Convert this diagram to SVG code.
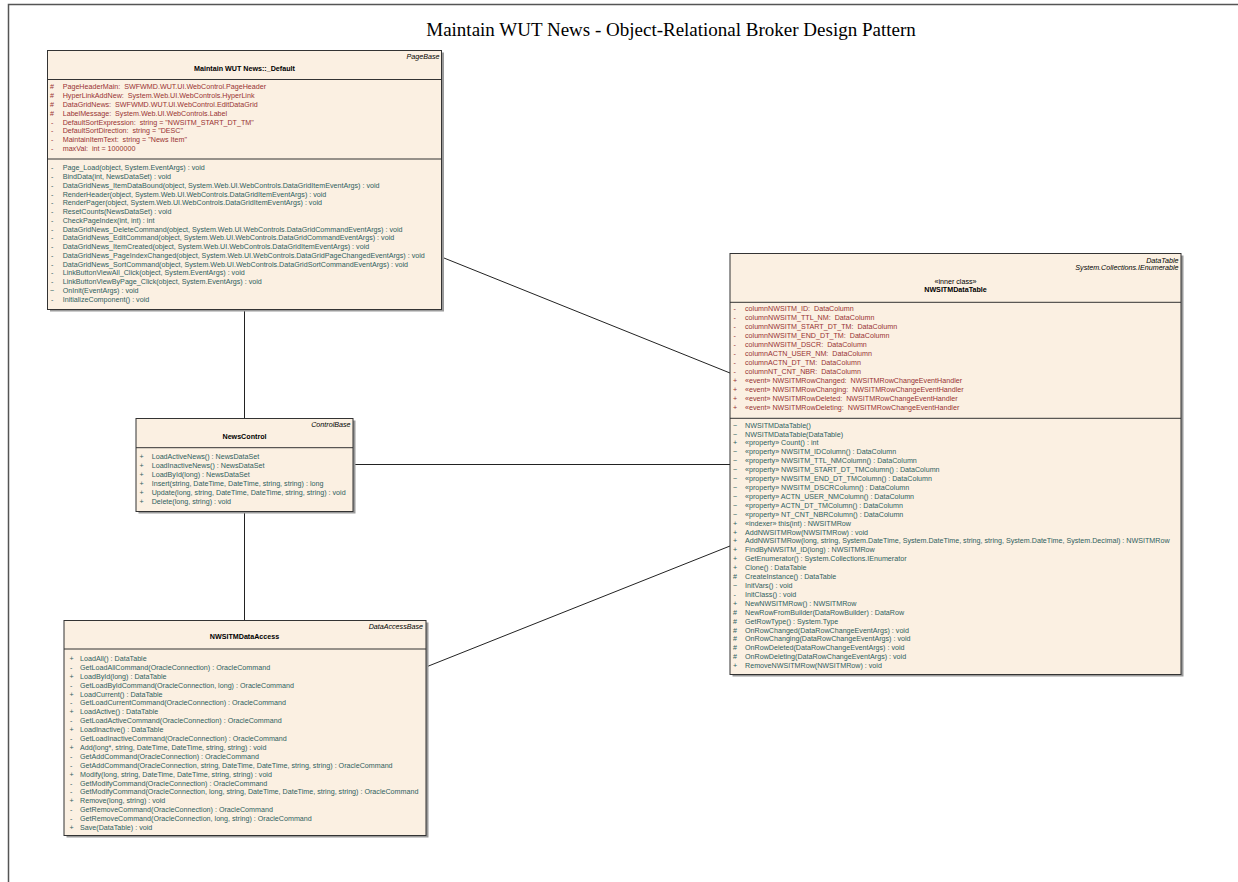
<svg xmlns="http://www.w3.org/2000/svg" width="1238" height="882" viewBox="0 0 1238 882">
<style>
.bg{fill:#ffffff}
.frame{stroke:#555;stroke-width:1.5;fill:none}
.box{fill:#FBF0E2;stroke:#333;stroke-width:1}
.sh{fill:#9a9a9a}
.sep{stroke:#333;stroke-width:1}
.t{font-family:"Liberation Sans",Arial,sans-serif;font-size:7.15px;white-space:pre}
.a{fill:#993333}
.m{fill:#2F6060}
.n{font-weight:bold;fill:#000;text-anchor:middle}
.c{fill:#000;text-anchor:middle}
.st{font-style:italic;fill:#000;text-anchor:end}
.conn{stroke:#222;stroke-width:1;fill:none}
.title{font-family:"Liberation Serif","Times New Roman",serif;font-size:19px;fill:#000;text-anchor:middle}
</style>
<rect class="bg" x="0" y="0" width="1238" height="882"/>
<path class="frame" d="M8.5,882 V4.5 H1238"/>
<text class="title" x="671" y="35.5">Maintain WUT News - Object-Relational Broker Design Pattern</text>

<g id="connectors">
<line class="conn" x1="244.5" y1="309" x2="244.5" y2="418"/>
<line class="conn" x1="353" y1="464.5" x2="730" y2="464.5"/>
<line class="conn" x1="244.5" y1="511" x2="244.5" y2="620"/>
<line class="conn" x1="441.5" y1="257" x2="730" y2="373"/>
<line class="conn" x1="426" y1="667" x2="730" y2="546"/>
</g>

<g id="default">
<rect class="sh" x="50" y="52.5" width="394" height="259"/>
<rect class="box" x="47.5" y="50.5" width="394" height="259"/>
<line class="sep" x1="47.5" y1="79.5" x2="441.5" y2="79.5"/>
<line class="sep" x1="47.5" y1="159" x2="441.5" y2="159"/>
<text class="t st" x="439.5" y="59.3">PageBase</text>
<text class="t n" x="244.5" y="71">Maintain WUT News::_Default</text>
<g class="t a">
<text y="89.3" xml:space="preserve"><tspan x="50">#</tspan><tspan x="62.7">PageHeaderMain:  SWFWMD.WUT.UI.WebControl.PageHeader</tspan></text>
<text y="98.1" xml:space="preserve"><tspan x="50">#</tspan><tspan x="62.7">HyperLinkAddNew:  System.Web.UI.WebControls.HyperLink</tspan></text>
<text y="106.9" xml:space="preserve"><tspan x="50">#</tspan><tspan x="62.7">DataGridNews:  SWFWMD.WUT.UI.WebControl.EditDataGrid</tspan></text>
<text y="115.7" xml:space="preserve"><tspan x="50">#</tspan><tspan x="62.7">LabelMessage:  System.Web.UI.WebControls.Label</tspan></text>
<text y="124.5" xml:space="preserve"><tspan x="51">-</tspan><tspan x="62.7">DefaultSortExpression:  string = "NWSITM_START_DT_TM"</tspan></text>
<text y="133.3" xml:space="preserve"><tspan x="51">-</tspan><tspan x="62.7">DefaultSortDirection:  string = "DESC"</tspan></text>
<text y="142.1" xml:space="preserve"><tspan x="51">-</tspan><tspan x="62.7">MaintainItemText:  string = "News Item"</tspan></text>
<text y="150.9" xml:space="preserve"><tspan x="51">-</tspan><tspan x="62.7">maxVal:  int = 1000000</tspan></text>
</g>
<g class="t m">
<text y="170.3"><tspan x="51">-</tspan><tspan x="62.7">Page_Load(object, System.EventArgs) : void</tspan></text>
<text y="179.1"><tspan x="51">-</tspan><tspan x="62.7">BindData(int, NewsDataSet) : void</tspan></text>
<text y="187.8"><tspan x="51">-</tspan><tspan x="62.7">DataGridNews_ItemDataBound(object, System.Web.UI.WebControls.DataGridItemEventArgs) : void</tspan></text>
<text y="196.6"><tspan x="51">-</tspan><tspan x="62.7">RenderHeader(object, System.Web.UI.WebControls.DataGridItemEventArgs) : void</tspan></text>
<text y="205.3"><tspan x="51">-</tspan><tspan x="62.7">RenderPager(object, System.Web.UI.WebControls.DataGridItemEventArgs) : void</tspan></text>
<text y="214.1"><tspan x="51">-</tspan><tspan x="62.7">ResetCounts(NewsDataSet) : void</tspan></text>
<text y="222.8"><tspan x="51">-</tspan><tspan x="62.7">CheckPageIndex(int, int) : int</tspan></text>
<text y="231.6"><tspan x="51">-</tspan><tspan x="62.7">DataGridNews_DeleteCommand(object, System.Web.UI.WebControls.DataGridCommandEventArgs) : void</tspan></text>
<text y="240.3"><tspan x="51">-</tspan><tspan x="62.7">DataGridNews_EditCommand(object, System.Web.UI.WebControls.DataGridCommandEventArgs) : void</tspan></text>
<text y="249.1"><tspan x="51">-</tspan><tspan x="62.7">DataGridNews_ItemCreated(object, System.Web.UI.WebControls.DataGridItemEventArgs) : void</tspan></text>
<text y="257.8"><tspan x="51">-</tspan><tspan x="62.7">DataGridNews_PageIndexChanged(object, System.Web.UI.WebControls.DataGridPageChangedEventArgs) : void</tspan></text>
<text y="266.6"><tspan x="51">-</tspan><tspan x="62.7">DataGridNews_SortCommand(object, System.Web.UI.WebControls.DataGridSortCommandEventArgs) : void</tspan></text>
<text y="275.3"><tspan x="51">-</tspan><tspan x="62.7">LinkButtonViewAll_Click(object, System.EventArgs) : void</tspan></text>
<text y="284.1"><tspan x="51">-</tspan><tspan x="62.7">LinkButtonViewByPage_Click(object, System.EventArgs) : void</tspan></text>
<text y="292.8"><tspan x="50">~</tspan><tspan x="62.7">OnInit(EventArgs) : void</tspan></text>
<text y="301.6"><tspan x="51">-</tspan><tspan x="62.7">InitializeComponent() : void</tspan></text>
</g>
</g>

<g id="newscontrol">
<rect class="sh" x="138.5" y="420.5" width="217" height="93"/>
<rect class="box" x="136" y="418.5" width="217" height="93"/>
<line class="sep" x1="136" y1="447.7" x2="353" y2="447.7"/>
<text class="t st" x="350.5" y="427">ControlBase</text>
<text class="t n" x="244.5" y="438.6">NewsControl</text>
<g class="t m">
<text y="459.3"><tspan x="139.5">+</tspan><tspan x="151.7">LoadActiveNews() : NewsDataSet</tspan></text>
<text y="468.2"><tspan x="139.5">+</tspan><tspan x="151.7">LoadInactiveNews() : NewsDataSet</tspan></text>
<text y="477.1"><tspan x="139.5">+</tspan><tspan x="151.7">LoadById(long) : NewsDataSet</tspan></text>
<text y="486"><tspan x="139.5">+</tspan><tspan x="151.7">Insert(string, DateTime, DateTime, string, string) : long</tspan></text>
<text y="494.9"><tspan x="139.5">+</tspan><tspan x="151.7">Update(long, string, DateTime, DateTime, string, string) : void</tspan></text>
<text y="503.8"><tspan x="139.5">+</tspan><tspan x="151.7">Delete(long, string) : void</tspan></text>
</g>
</g>

<g id="dataaccess">
<rect class="sh" x="66.5" y="622.5" width="362" height="215"/>
<rect class="box" x="64" y="620.5" width="362" height="215"/>
<line class="sep" x1="64" y1="649" x2="426" y2="649"/>
<text class="t st" x="423" y="628.6">DataAccessBase</text>
<text class="t n" x="244.5" y="639.3">NWSITMDataAccess</text>
<g class="t m">
<text y="660.9"><tspan x="69.5">+</tspan><tspan x="80">LoadAll() : DataTable</tspan></text>
<text y="669.8"><tspan x="70">-</tspan><tspan x="80">GetLoadAllCommand(OracleConnection) : OracleCommand</tspan></text>
<text y="678.7"><tspan x="69.5">+</tspan><tspan x="80">LoadById(long) : DataTable</tspan></text>
<text y="687.6"><tspan x="70">-</tspan><tspan x="80">GetLoadByIdCommand(OracleConnection, long) : OracleCommand</tspan></text>
<text y="696.5"><tspan x="69.5">+</tspan><tspan x="80">LoadCurrent() : DataTable</tspan></text>
<text y="705.4"><tspan x="70">-</tspan><tspan x="80">GetLoadCurrentCommand(OracleConnection) : OracleCommand</tspan></text>
<text y="714.3"><tspan x="69.5">+</tspan><tspan x="80">LoadActive() : DataTable</tspan></text>
<text y="723.2"><tspan x="70">-</tspan><tspan x="80">GetLoadActiveCommand(OracleConnection) : OracleCommand</tspan></text>
<text y="732.1"><tspan x="69.5">+</tspan><tspan x="80">LoadInactive() : DataTable</tspan></text>
<text y="741"><tspan x="70">-</tspan><tspan x="80">GetLoadInactiveCommand(OracleConnection) : OracleCommand</tspan></text>
<text y="749.9"><tspan x="69.5">+</tspan><tspan x="80">Add(long*, string, DateTime, DateTime, string, string) : void</tspan></text>
<text y="758.8"><tspan x="70">-</tspan><tspan x="80">GetAddCommand(OracleConnection) : OracleCommand</tspan></text>
<text y="767.7"><tspan x="70">-</tspan><tspan x="80">GetAddCommand(OracleConnection, string, DateTime, DateTime, string, string) : OracleCommand</tspan></text>
<text y="776.6"><tspan x="69.5">+</tspan><tspan x="80">Modify(long, string, DateTime, DateTime, string, string) : void</tspan></text>
<text y="785.5"><tspan x="70">-</tspan><tspan x="80">GetModifyCommand(OracleConnection) : OracleCommand</tspan></text>
<text y="794.4"><tspan x="70">-</tspan><tspan x="80">GetModifyCommand(OracleConnection, long, string, DateTime, DateTime, string, string) : OracleCommand</tspan></text>
<text y="803.3"><tspan x="69.5">+</tspan><tspan x="80">Remove(long, string) : void</tspan></text>
<text y="812.2"><tspan x="70">-</tspan><tspan x="80">GetRemoveCommand(OracleConnection) : OracleCommand</tspan></text>
<text y="821.1"><tspan x="70">-</tspan><tspan x="80">GetRemoveCommand(OracleConnection, long, string) : OracleCommand</tspan></text>
<text y="830"><tspan x="69.5">+</tspan><tspan x="80">Save(DataTable) : void</tspan></text>
</g>
</g>

<g id="datatable">
<rect class="sh" x="732.5" y="255.5" width="451" height="421"/>
<rect class="box" x="730" y="253.5" width="451" height="421"/>
<line class="sep" x1="730" y1="302.3" x2="1181" y2="302.3"/>
<line class="sep" x1="730" y1="418.3" x2="1181" y2="418.3"/>
<text class="t st" x="1178.5" y="262.6">DataTable</text>
<text class="t st" x="1178.5" y="270">System.Collections.IEnumerable</text>
<text class="t c" x="955.5" y="283.6">«inner class»</text>
<text class="t n" x="955.5" y="292">NWSITMDataTable</text>
<g class="t a">
<text y="311.3" xml:space="preserve"><tspan x="733.5">-</tspan><tspan x="745">columnNWSITM_ID:  DataColumn</tspan></text>
<text y="320.2" xml:space="preserve"><tspan x="733.5">-</tspan><tspan x="745">columnNWSITM_TTL_NM:  DataColumn</tspan></text>
<text y="329.2" xml:space="preserve"><tspan x="733.5">-</tspan><tspan x="745">columnNWSITM_START_DT_TM:  DataColumn</tspan></text>
<text y="338.1" xml:space="preserve"><tspan x="733.5">-</tspan><tspan x="745">columnNWSITM_END_DT_TM:  DataColumn</tspan></text>
<text y="347" xml:space="preserve"><tspan x="733.5">-</tspan><tspan x="745">columnNWSITM_DSCR:  DataColumn</tspan></text>
<text y="355.9" xml:space="preserve"><tspan x="733.5">-</tspan><tspan x="745">columnACTN_USER_NM:  DataColumn</tspan></text>
<text y="364.9" xml:space="preserve"><tspan x="733.5">-</tspan><tspan x="745">columnACTN_DT_TM:  DataColumn</tspan></text>
<text y="373.8" xml:space="preserve"><tspan x="733.5">-</tspan><tspan x="745">columnNT_CNT_NBR:  DataColumn</tspan></text>
<text y="382.7" xml:space="preserve"><tspan x="733">+</tspan><tspan x="745">«event» NWSITMRowChanged:  NWSITMRowChangeEventHandler</tspan></text>
<text y="391.7" xml:space="preserve"><tspan x="733">+</tspan><tspan x="745">«event» NWSITMRowChanging:  NWSITMRowChangeEventHandler</tspan></text>
<text y="400.6" xml:space="preserve"><tspan x="733">+</tspan><tspan x="745">«event» NWSITMRowDeleted:  NWSITMRowChangeEventHandler</tspan></text>
<text y="409.5" xml:space="preserve"><tspan x="733">+</tspan><tspan x="745">«event» NWSITMRowDeleting:  NWSITMRowChangeEventHandler</tspan></text>
</g>
<g class="t m">
<text y="427.6"><tspan x="733">~</tspan><tspan x="745">NWSITMDataTable()</tspan></text>
<text y="436.5"><tspan x="733">~</tspan><tspan x="745">NWSITMDataTable(DataTable)</tspan></text>
<text y="445.4"><tspan x="733">+</tspan><tspan x="745">«property» Count() : int</tspan></text>
<text y="454.3"><tspan x="733">~</tspan><tspan x="745">«property» NWSITM_IDColumn() : DataColumn</tspan></text>
<text y="463.2"><tspan x="733">~</tspan><tspan x="745">«property» NWSITM_TTL_NMColumn() : DataColumn</tspan></text>
<text y="472.2"><tspan x="733">~</tspan><tspan x="745">«property» NWSITM_START_DT_TMColumn() : DataColumn</tspan></text>
<text y="481.1"><tspan x="733">~</tspan><tspan x="745">«property» NWSITM_END_DT_TMColumn() : DataColumn</tspan></text>
<text y="490"><tspan x="733">~</tspan><tspan x="745">«property» NWSITM_DSCRColumn() : DataColumn</tspan></text>
<text y="498.9"><tspan x="733">~</tspan><tspan x="745">«property» ACTN_USER_NMColumn() : DataColumn</tspan></text>
<text y="507.8"><tspan x="733">~</tspan><tspan x="745">«property» ACTN_DT_TMColumn() : DataColumn</tspan></text>
<text y="516.7"><tspan x="733">~</tspan><tspan x="745">«property» NT_CNT_NBRColumn() : DataColumn</tspan></text>
<text y="525.6"><tspan x="733">+</tspan><tspan x="745">«indexer» this(int) : NWSITMRow</tspan></text>
<text y="534.5"><tspan x="733">+</tspan><tspan x="745">AddNWSITMRow(NWSITMRow) : void</tspan></text>
<text y="543.4"><tspan x="733">+</tspan><tspan x="745">AddNWSITMRow(long, string, System.DateTime, System.DateTime, string, string, System.DateTime, System.Decimal) : NWSITMRow</tspan></text>
<text y="552.3"><tspan x="733">+</tspan><tspan x="745">FindByNWSITM_ID(long) : NWSITMRow</tspan></text>
<text y="561.3"><tspan x="733">+</tspan><tspan x="745">GetEnumerator() : System.Collections.IEnumerator</tspan></text>
<text y="570.2"><tspan x="733">+</tspan><tspan x="745">Clone() : DataTable</tspan></text>
<text y="579.1"><tspan x="733">#</tspan><tspan x="745">CreateInstance() : DataTable</tspan></text>
<text y="588"><tspan x="733">~</tspan><tspan x="745">InitVars() : void</tspan></text>
<text y="596.9"><tspan x="733.5">-</tspan><tspan x="745">InitClass() : void</tspan></text>
<text y="605.8"><tspan x="733">+</tspan><tspan x="745">NewNWSITMRow() : NWSITMRow</tspan></text>
<text y="614.7"><tspan x="733">#</tspan><tspan x="745">NewRowFromBuilder(DataRowBuilder) : DataRow</tspan></text>
<text y="623.6"><tspan x="733">#</tspan><tspan x="745">GetRowType() : System.Type</tspan></text>
<text y="632.5"><tspan x="733">#</tspan><tspan x="745">OnRowChanged(DataRowChangeEventArgs) : void</tspan></text>
<text y="641.4"><tspan x="733">#</tspan><tspan x="745">OnRowChanging(DataRowChangeEventArgs) : void</tspan></text>
<text y="650.4"><tspan x="733">#</tspan><tspan x="745">OnRowDeleted(DataRowChangeEventArgs) : void</tspan></text>
<text y="659.3"><tspan x="733">#</tspan><tspan x="745">OnRowDeleting(DataRowChangeEventArgs) : void</tspan></text>
<text y="668.2"><tspan x="733">+</tspan><tspan x="745">RemoveNWSITMRow(NWSITMRow) : void</tspan></text>
</g>
</g>
</svg>
